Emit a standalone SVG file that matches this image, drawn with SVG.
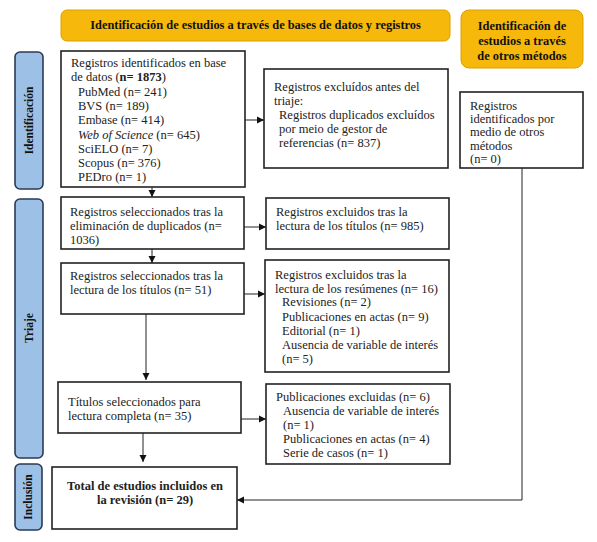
<svg xmlns="http://www.w3.org/2000/svg" width="597" height="542" viewBox="0 0 597 542">
<style>
.hdr{fill:#F6B80A;stroke:#D9A200;stroke-width:1}
.bar{fill:#9DC0E6;stroke:#2B3A55;stroke-width:1.6}
.box{fill:#fff;stroke:#222;stroke-width:1.6}
.t{font-family:"Liberation Serif","DejaVu Serif",serif;font-size:12.5px;fill:#222}
.hb{font-family:"Liberation Serif","DejaVu Serif",serif;font-size:12.4px;font-weight:bold;fill:#111}
.vb{font-family:"Liberation Serif","DejaVu Serif",serif;font-size:11.5px;font-weight:bold;fill:#111}
.ln{fill:none;stroke:#222;stroke-width:1}
</style>
<defs>
<marker id="ah" markerWidth="8" markerHeight="8" refX="7" refY="4" orient="auto" markerUnits="userSpaceOnUse">
<path d="M0,0.5 L7,4 L0,7.5 Z" fill="#111"/>
</marker>
</defs>
<rect width="597" height="542" fill="#fff"/>
<g id="header1"><rect class="hdr" x="61" y="10" width="389" height="31" rx="6"/>
<text class="hb" x="255.5" y="29" text-anchor="middle">Identificación de estudios a través de bases de datos y registros</text></g>
<g id="header2"><rect class="hdr" x="461" y="10" width="122" height="58" rx="8"/>
<text class="hb" x="522" y="30" text-anchor="middle">Identificación de</text>
<text class="hb" x="522" y="45" text-anchor="middle">estudios a través</text>
<text class="hb" x="522" y="60" text-anchor="middle">de otros métodos</text></g>
<g id="bar-identificacion"><rect class="bar" x="15" y="52" width="28" height="137" rx="5"/>
<text class="vb" transform="translate(33,120.5) rotate(-90)" text-anchor="middle">Identificación</text></g>
<g id="bar-triaje"><rect class="bar" x="15" y="199" width="28" height="259" rx="5"/>
<text class="vb" transform="translate(33,328) rotate(-90)" text-anchor="middle">Triaje</text></g>
<g id="bar-inclusion"><rect class="bar" x="15" y="464" width="27" height="66" rx="5"/>
<text class="vb" transform="translate(32,497) rotate(-90)" text-anchor="middle">Inclusión</text></g>
<g id="box-identificados"><rect class="box" x="61" y="51" width="184" height="136"/>
<text class="t" x="71" y="67">Registros identificados en base</text>
<text class="t" x="71" y="81">de datos (<tspan font-weight="bold">n= 1873</tspan>)</text>
<text class="t" x="78" y="96">PubMed (n= 241)</text>
<text class="t" x="78" y="110">BVS (n= 189)</text>
<text class="t" x="78" y="124">Embase (n= 414)</text>
<text class="t" x="78" y="139"><tspan font-style="italic">Web of Science</tspan> (n= 645)</text>
<text class="t" x="78" y="153">SciELO (n= 7)</text>
<text class="t" x="78" y="167">Scopus (n= 376)</text>
<text class="t" x="78" y="181">PEDro (n= 1)</text></g>
<g id="box-excluidos-antes"><rect class="box" x="264" y="69" width="184" height="99"/>
<text class="t" x="274" y="91">Registros excluídos antes del</text>
<text class="t" x="274" y="105">triaje:</text>
<text class="t" x="279" y="119">Registros duplicados excluídos</text>
<text class="t" x="279" y="133">por meio de gestor de</text>
<text class="t" x="279" y="147">referencias (n= 837)</text></g>
<g id="box-otros"><rect class="box" x="460" y="92" width="123" height="76"/>
<text class="t" x="470" y="110">Registros</text>
<text class="t" x="470" y="123">identificados por</text>
<text class="t" x="470" y="136">medio de otros</text>
<text class="t" x="470" y="150">métodos</text>
<text class="t" x="470" y="163">(n= 0)</text></g>
<g id="box-sel-duplicados"><rect class="box" x="61" y="197" width="183" height="52"/>
<text class="t" x="70" y="216">Registros seleccionados tras la</text>
<text class="t" x="70" y="230">eliminación de duplicados (n=</text>
<text class="t" x="70" y="244">1036)</text></g>
<g id="box-excl-titulos"><rect class="box" x="266" y="198" width="183" height="51"/>
<text class="t" x="276" y="216">Registros excluidos tras la</text>
<text class="t" x="276" y="230">lectura de los títulos (n= 985)</text></g>
<g id="box-sel-titulos"><rect class="box" x="61" y="263" width="183" height="51"/>
<text class="t" x="70" y="280">Registros seleccionados tras la</text>
<text class="t" x="70" y="294">lectura de los títulos (n= 51)</text></g>
<g id="box-excl-resumenes"><rect class="box" x="265" y="260" width="184" height="112"/>
<text class="t" x="275" y="279">Registros excluidos tras la</text>
<text class="t" x="275" y="293">lectura de los resúmenes (n= 16)</text>
<text class="t" x="282" y="306">Revisiones (n= 2)</text>
<text class="t" x="282" y="321">Publicaciones en actas (n= 9)</text>
<text class="t" x="282" y="335">Editorial (n= 1)</text>
<text class="t" x="282" y="349">Ausencia de variable de interés</text>
<text class="t" x="282" y="363">(n= 5)</text></g>
<g id="box-titulos-completa"><rect class="box" x="58" y="382" width="183" height="51"/>
<text class="t" x="68" y="406">Títulos seleccionados para</text>
<text class="t" x="68" y="420">lectura completa (n= 35)</text></g>
<g id="box-pub-excluidas"><rect class="box" x="266" y="384" width="184" height="80"/>
<text class="t" x="276" y="401">Publicaciones excluidas (n= 6)</text>
<text class="t" x="283" y="415">Ausencia de variable de interés</text>
<text class="t" x="283" y="429">(n= 1)</text>
<text class="t" x="283" y="443">Publicaciones en actas (n= 4)</text>
<text class="t" x="283" y="457">Serie de casos (n= 1)</text></g>
<g id="box-total"><rect class="box" x="52" y="467" width="185" height="62"/>
<text class="t" x="145" y="490" text-anchor="middle" font-weight="bold">Total de estudios incluidos en</text>
<text class="t" x="145" y="504" text-anchor="middle" font-weight="bold">la revisión (n= 29)</text></g>
<g id="connectors">
<line class="ln" x1="245" y1="120" x2="264" y2="120" marker-end="url(#ah)"/>
<line class="ln" x1="152" y1="187" x2="152" y2="197" marker-end="url(#ah)"/>
<line class="ln" x1="244" y1="227" x2="266" y2="227" marker-end="url(#ah)"/>
<line class="ln" x1="152" y1="249" x2="152" y2="263" marker-end="url(#ah)"/>
<line class="ln" x1="244" y1="294" x2="265" y2="294" stroke="#666" marker-end="url(#ah)"/>
<line class="ln" x1="146" y1="314" x2="146" y2="380" marker-end="url(#ah)"/>
<line class="ln" x1="241" y1="419" x2="266" y2="419" marker-end="url(#ah)"/>
<line class="ln" x1="143" y1="433" x2="143" y2="462" marker-end="url(#ah)"/>
<polyline class="ln" points="522,168 522,500 237,500" marker-end="url(#ah)"/>
</g>
</svg>
